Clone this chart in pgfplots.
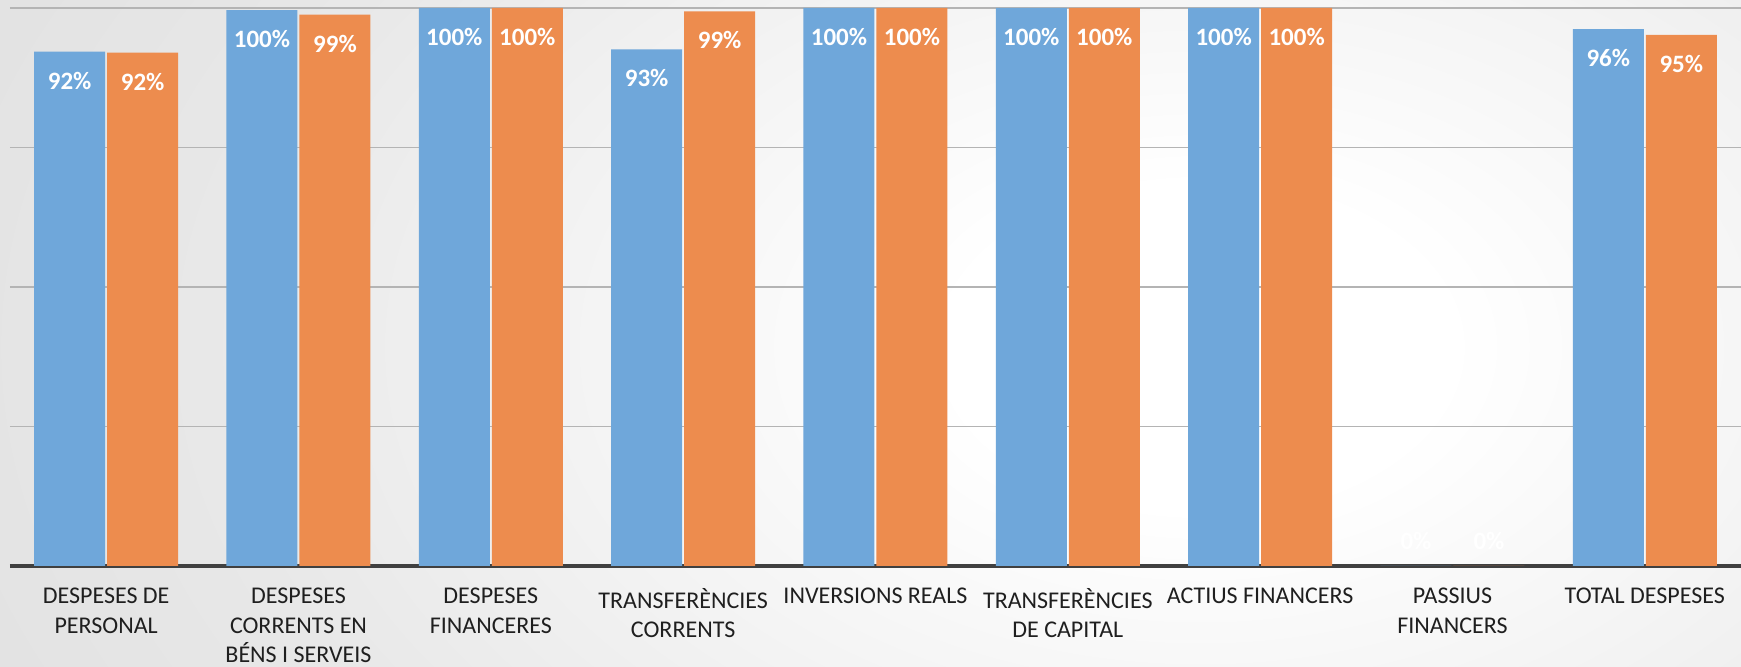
\documentclass[border=0pt]{standalone}
\usepackage{fontspec}
\setmainfont{Carlito}
\usepackage{pgfplots}
\pgfplotsset{compat=1.18}
\definecolor{barblue}{HTML}{6FA7DA}
\definecolor{barorange}{HTML}{ED8C4E}
\definecolor{baseline}{HTML}{404040}
\definecolor{gridgray}{HTML}{B4B4B4}
\definecolor{griddark}{HTML}{8E8E8E}
\pgfdeclareradialshading{bgshade}{\pgfpoint{0bp}{0bp}}{color(0bp)=(white); color(5bp)=(white); color(20bp)=(black!9!white); color(35bp)=(black!14!white); color(48bp)=(black!17!white); color(70bp)=(black!19!white)}
\begin{document}
\begin{tikzpicture}
\useasboundingbox (0,0) rectangle (870.5pt,333.5pt);
\begin{scope}
\clip (0,0) rectangle (870.5pt,333.5pt);
\shade[shading=bgshade] (-20pt,-240pt) rectangle (1220pt,560pt);
\end{scope}
\begin{axis}[
  at={(5pt,50.5pt)}, anchor=south west,
  width=865.5pt, height=279pt, scale only axis,
  xmin=-0.5, xmax=8.5, ymin=0, ymax=100,
  ybar=1pt, bar width=35.5pt,
  axis x line*=bottom, axis y line*=left,
  y axis line style={draw=none},
  x axis line style={line width=1.6pt, color=baseline, -},
  xtick={0,1,2,3,4,5,6,7,8},
  major tick length=0pt,
  ytick={50,75,100}, yticklabels={},
  extra y ticks={25}, extra y tick labels={},
  extra y tick style={grid style={griddark, line width=0.9pt}},
  ymajorgrids, major grid style={gridgray, line width=0.8pt},
  /pgf/number format/assume math mode=true,
  xticklabels={{DESPESES DE\\PERSONAL},{DESPESES\\CORRENTS EN\\BÉNS I SERVEIS},{DESPESES\\FINANCERES},{TRANSFERÈNCIES\\CORRENTS},{INVERSIONS REALS},{TRANSFERÈNCIES\\DE CAPITAL},{ACTIUS FINANCERS},{PASSIUS\\FINANCERS},{TOTAL DESPESES}},
  xticklabel style={align=center, font=\fontsize{12}{14.7}\selectfont, anchor=north, yshift=-7.5pt, text=black!88},
  visualization depends on={y \as \rawy},
  nodes near coords={\pgfmathprintnumber[fixed,precision=0]{\pgfplotspointmeta}\%},
  every node near coord/.append style={font=\fontsize{12.5}{14}\bfseries, text=white, anchor=center, yshift={(ifthenelse(\rawy>0.5,-14.5,12.5))*1pt}},
  clip=false,
]
\addplot[fill=barblue, draw=none] coordinates {
(0,92.2) (1,99.6) (2,100) (3,92.6) (4,100) (5,100) (6,100) (7,0) (8,96.2)};
\addplot[fill=barorange, draw=none] coordinates {
(0,92.0) (1,98.8) (2,100) (3,99.4) (4,100) (5,100) (6,100) (7,0) (8,95.2)};
\end{axis}
\end{tikzpicture}
\end{document}
